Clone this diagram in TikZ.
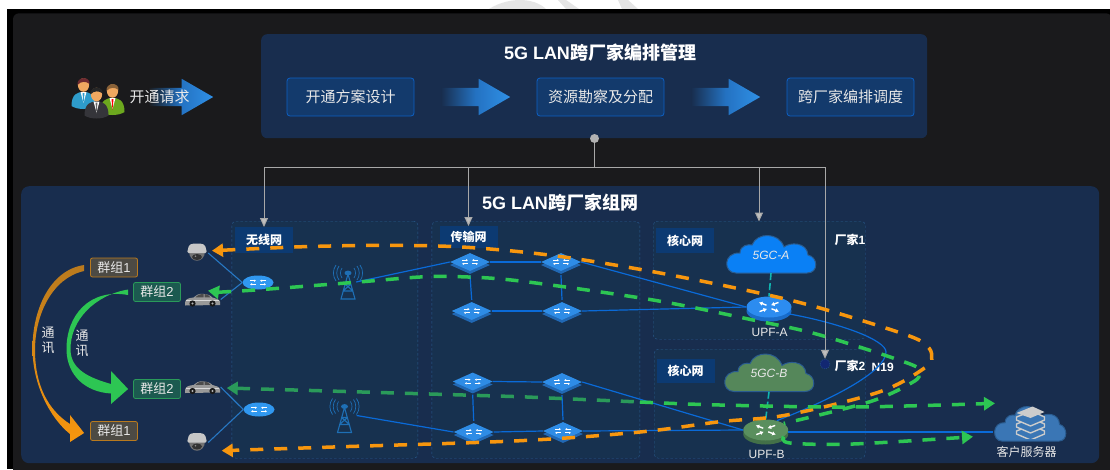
\documentclass[tikz,border=0pt]{standalone}
\usepackage{fontspec}
\setmainfont{Liberation Sans}
\newfontfamily\cjk{Noto Sans CJK SC}
\usetikzlibrary{arrows.meta,positioning,shapes.geometric,shapes.arrows,shadows}

\definecolor{pagedark}{HTML}{1A1A1C}
\definecolor{panelblue}{HTML}{182D4E}
\definecolor{regionblue}{HTML}{17314F}
\definecolor{regionedge}{HTML}{2A5C90}
\definecolor{flowfill}{HTML}{133A6C}
\definecolor{flowedge}{HTML}{0D60C4}
\definecolor{tagblue}{HTML}{0C3A72}
\definecolor{arrowblue}{HTML}{2F90E6}
\definecolor{arrowmid}{HTML}{2472C2}
\definecolor{feedgrey}{HTML}{A8A8A8}
\definecolor{linkblue}{HTML}{0A6AD8}
\definecolor{swtop}{HTML}{2E8CE6}
\definecolor{swside}{HTML}{2168B4}
\definecolor{accessblue}{HTML}{3098F0}
\definecolor{upfgreen}{HTML}{5A8F5E}
\definecolor{upfgreenside}{HTML}{437048}
\definecolor{upfblue}{HTML}{2C8CF0}
\definecolor{upfblueside}{HTML}{1A6CC8}
\definecolor{cloudblue}{HTML}{0A80F5}
\definecolor{cloudgreen}{HTML}{55875A}
\definecolor{serverblue}{HTML}{3A76B5}
\definecolor{dashorange}{HTML}{F7960E}
\definecolor{dashgreen}{HTML}{2DC653}
\definecolor{dashgreendark}{HTML}{2A9A5A}
\definecolor{tealdash}{HTML}{10B5B0}
\definecolor{towerblue}{HTML}{1E6FB5}
\definecolor{textlight}{HTML}{E8E8E8}
\definecolor{skintone}{HTML}{F0A860}
\definecolor{groupbrown}{HTML}{4C4A44}
\definecolor{groupteal}{HTML}{1C5A50}
\definecolor{groupedge}{HTML}{B97A1E}
\definecolor{shirtblue}{HTML}{2E9CCB}
\definecolor{shirtgreen}{HTML}{6CA81E}
\definecolor{suitdark}{HTML}{35353A}
\definecolor{hairred}{HTML}{6E2A30}
\definecolor{hairbrown}{HTML}{8A6238}

\newcommand{\sizept}[1]{\fontsize{#1}{#1}\selectfont}
% little white arrow pairs on the switches
\newcommand{\swmarks}{
	\draw[white,line width=.8pt,-{Latex[length=2pt,width=2.4pt]}] (-8,-1.8) -- (-2,-1.8);
	\draw[white,line width=.8pt,-{Latex[length=2pt,width=2.4pt]}] (-2,1.8) -- (-8,1.8);
	\draw[white,line width=.8pt,-{Latex[length=2pt,width=2.4pt]}] (8,-1.8) -- (2,-1.8);
	\draw[white,line width=.8pt,-{Latex[length=2pt,width=2.4pt]}] (2,1.8) -- (8,1.8);
}
\newcommand{\upfmarks}{
	\draw[white,line width=1.4pt,-{Latex[length=3.5pt,width=4.5pt]}] (-2.5,-1.8) -- (-10,-4.6);
	\draw[white,line width=1.4pt,-{Latex[length=3.5pt,width=4.5pt]}] (-9.5,4.6) -- (-2,1.8);
	\draw[white,line width=1.4pt,-{Latex[length=3.5pt,width=4.5pt]}] (9.5,-4.6) -- (2,-1.8);
	\draw[white,line width=1.4pt,-{Latex[length=3.5pt,width=4.5pt]}] (2.5,1.8) -- (10,4.6);
}
% cloud outline, drawn under the node that carries the name and the text
\newcommand{\cloudbg}[5]{
	\begin{scope}[shift={(#1,#2)},xscale=#3,yscale=#4]
		\draw[fill=#5,draw=regionedge,line width=1pt] (-35,18) .. controls (-48,18) and (-48,-3) .. (-31,-2) .. controls (-31,-10) and (-22,-11) .. (-19,-10) .. controls (-14,-23) and (8,-23) .. (13,-8) .. controls (19,-13) and (36,-13) .. (37,0) .. controls (47,2) and (48,18) .. (36,18) -- cycle;
	\end{scope}
}

\tikzset{
	flowbox/.style={draw=flowedge,line width=.8pt,fill=flowfill,rounded corners=3pt,minimum width=127pt,minimum height=38pt,inner sep=0pt,text=textlight,font=\sizept{15}\cjk},
	flowarrow/.style={single arrow,anchor=tail,minimum width=36pt,inner xsep=0pt,inner ysep=9pt,single arrow head extend=9pt,single arrow tip angle=60,left color=#1,right color=arrowblue,middle color=arrowmid,draw=none},
	titletext/.style={text=white,font=\sizept{18}\bfseries,inner sep=0pt},
	region/.style={draw=regionedge,dashed,dash pattern=on 2.5pt off 2pt,fill=regionblue,rounded corners=4pt,anchor=north west,inner sep=0pt},
	tagbox/.style={fill=tagblue,minimum width=58pt,minimum height=24pt,inner sep=0pt,text=white,font=\sizept{12}\bfseries\cjk},
	groupone/.style={draw=groupedge,line width=.8pt,fill=groupbrown,rounded corners=2pt,minimum width=47pt,minimum height=19pt,inner sep=0pt,text=textlight,font=\sizept{13}},
	grouptwo/.style={draw=dashgreendark,line width=.8pt,fill=groupteal,rounded corners=2pt,minimum width=47pt,minimum height=19pt,inner sep=0pt,text=textlight,font=\sizept{13}},
	plaintext/.style={inner sep=0pt,text=textlight,font=\sizept{#1}},
	plaintext/.default=12,
	boldtext/.style={inner sep=0pt,text=white,font=\sizept{12}\bfseries},
	switchnode/.style={diamond,aspect=2,fill=swtop,minimum width=40pt,minimum height=18pt,inner sep=0pt,general shadow={fill=swside,shadow yshift=-3pt},path picture={\begin{scope}[shift={(path picture bounding box.center)}]\swmarks\end{scope}}},
	accessnode/.style={ellipse,fill=accessblue,minimum width=31pt,minimum height=14pt,inner sep=0pt,path picture={\begin{scope}[shift={(path picture bounding box.center)},scale=.75]\swmarks\end{scope}}},
	upfnode/.style n args={2}{ellipse,fill=#1,minimum width=45pt,minimum height=21pt,inner sep=0pt,general shadow={fill=#2,shadow yshift=-4pt},path picture={\begin{scope}[shift={(path picture bounding box.center)}]\upfmarks\end{scope}}},
	cloudnode/.style 2 args={minimum width=#1pt,minimum height=#2pt,inner sep=0pt,text=textlight,font=\sizept{12}\itshape},
	camera/.style={minimum width=22pt,minimum height=20pt,inner sep=0pt,path picture={\begin{scope}[shift={(path picture bounding box.center)}]
		\fill[black!55] (-8,-2) .. controls (-8,11) and (8,11) .. (8,-2) -- cycle;
		\fill[black!22,rounded corners=1.5pt] (-10,0) -- (-8,-8) -- (-4,-9.5) -- (4,-9.5) -- (8,-8) -- (10,0) -- cycle;
		\fill[black!80] (0,4) ellipse (5pt and 3pt);
		\fill[black!45] (-1.5,3.2) circle (.8pt);
	\end{scope}}},
	carnode/.style={minimum width=36pt,minimum height=15pt,inner sep=0pt,path picture={\begin{scope}[shift={(path picture bounding box.center)}]
		\fill[black!40] (-17.5,3) .. controls (-17,-1) and (-13,-1.5) .. (-9,-2) .. controls (-5,-7) and (5,-7) .. (10,-2) .. controls (13,-1.5) and (17,0) .. (17.5,2) -- (17.5,5.5) -- (-17.5,6) -- cycle;
		\fill[black!70] (-7,-2.2) .. controls (-4,-5.5) and (-1,-5.6) .. (1,-5.6) -- (1,-2.2) -- cycle;
		\fill[black!70] (2,-5.6) .. controls (5,-5.4) and (6,-4.4) .. (8,-2.2) -- (2,-2.2) -- cycle;
		\fill[black!15] (-17,0.5) -- (16,.5) -- (16,1.5) -- (-17,1.5) -- cycle;
		\fill[black!90] (-10,4) circle (3.1pt) (10,4) circle (3.1pt);
		\fill[black!30] (-10,4) circle (1.2pt) (10,4) circle (1.2pt);
	\end{scope}}},
	towernode/.style={minimum width=30pt,minimum height=36pt,inner sep=0pt,path picture={\begin{scope}[shift={(path picture bounding box.center)}]
		\draw[towerblue,line width=1.1pt] (0,-8) -- (-7,17) -- (7,17) -- (0,-8) (-5,9) -- (5,9) (-3,2) -- (3,2) (-5,9) -- (3,2) (5,9) -- (-3,2);
		\fill[towerblue] (0,-9) ellipse (3.5pt and 2.4pt);
		\draw[towerblue,line width=.7pt] (-6,-14) .. controls (-8,-11) and (-8,-7) .. (-6,-4) (6,-14) .. controls (8,-11) and (8,-7) .. (6,-4) (-9,-16) .. controls (-12,-12) and (-12,-6) .. (-9,-2) (9,-16) .. controls (12,-12) and (12,-6) .. (9,-2) (-12,-17) .. controls (-15.5,-12) and (-15.5,-6) .. (-12,-1) (12,-17) .. controls (15.5,-12) and (15.5,-6) .. (12,-1);
	\end{scope}}},
	personnode/.style n args={4}{minimum width=28pt,minimum height=38pt,inner sep=0pt,path picture={\begin{scope}[shift={(path picture bounding box.center)},scale=#4]
		\fill[#1] (-12,14) .. controls (-12,2) and (-6,0) .. (0,0) .. controls (6,0) and (12,2) .. (12,14) .. controls (6,18) and (-6,18) .. (-12,14) -- cycle;
		\fill[white] (-3,0) -- (3,0) -- (0,11) -- cycle;
		\fill[#3] (-1,1) -- (1,1) -- (0,12) -- cycle;
		\fill[skintone] (0,-7) ellipse (5.6pt and 6.8pt);
		\fill[#2] (-6,-7) .. controls (-7,-16) and (7,-16) .. (6,-8) .. controls (3,-11) and (-3,-11) .. (-6,-7) -- cycle;
	\end{scope}}},
	booknode/.style={minimum width=32pt,minimum height=32pt,inner sep=0pt,path picture={\begin{scope}[shift={(path picture bounding box.center)}]
		\foreach \dy in {17,10,3}{
			\draw[fill=serverblue,draw=black!20,line width=1.4pt,line join=round] (-14,-8+\dy) -- (1,-14+\dy) -- (14,-8+\dy) -- (14,-5+\dy) -- (0,1+\dy) -- (-14,-5+\dy) -- cycle;
		}
		\fill[black!20] (-14,-9) -- (2,-15.5) -- (14,-10) -- (0,-4) -- cycle;
	\end{scope}}},
	hubdot/.style={circle,fill=black!30,minimum size=9pt,inner sep=0pt},
	vendordot/.style={circle,draw=regionedge,dashed,dash pattern=on 1pt off 1pt,fill=regionblue!80!blue,minimum size=10pt,inner sep=0pt},
	feedline/.style={draw=feedgrey,line width=1pt},
	feedarrow/.style={feedline,-{Triangle[length=9pt,width=8pt,fill=black!25]}},
	linkline/.style={draw=linkblue,line width=1.2pt},
	accessline/.style={draw=swtop!85!black,line width=1.1pt},
	tealline/.style={draw=tealdash,line width=1.6pt,dash pattern=on 7pt off 3pt},
	bigdash/.style={line width=3.5pt,dash pattern=on 13pt off 11pt},
}

\begin{document}
\begin{tikzpicture}[x=1pt,y=-1pt,node distance=250pt,on grid]
	\useasboundingbox (0,0) rectangle (1110,469);
	\fill[white] (0,0) rectangle (1110,469);
	% watermark remains on the top strip
	\fill[black!10] (489,9) .. controls (500,2) and (512,0) .. (520,0) .. controls (530,0) and (540,3) .. (546,9) -- cycle;
	\fill[black!10] (558,0) -- (566,0) -- (579,9) -- (566,9) -- cycle;
	\fill[black!10] (618,0) -- (628,0) -- (638,9) -- (622,9) -- cycle;
	\fill[black] (7,9) rectangle (1110,469);
	\fill[pagedark,rounded corners=6pt] (13,13.3) rectangle (1112,480);
	
	\node[fill=panelblue,rounded corners=6pt,anchor=north west,minimum width=666pt,minimum height=104pt,inner sep=0pt] (mgmt) at (261,34) {};
	\node[fill=panelblue,rounded corners=8pt,anchor=north west,minimum width=1078pt,minimum height=277pt,inner sep=0pt] (network) at (21,186) {};
	\node[titletext] (mgmttitle) at (600,53) {5G LAN{\cjk 跨厂家编排管理}};
	\node[titletext] (nettitle) at (560,203) {5G LAN{\cjk 跨厂家组网}};
	
	\node[flowbox] (design) at (350.5,97) {开通方案设计};
	\node[flowbox,right=of design] (survey) {资源勘察及分配};
	\node[flowbox,right=of survey] (dispatch) {跨厂家编排调度};
	\node[flowarrow=panelblue,minimum height=69pt] (arrowa) at (441,97) {};
	\node[flowarrow=panelblue,minimum height=69pt] (arrowb) at (691,97) {};
	\node[flowarrow=pagedark,minimum height=65pt] (arrowreq) at (148,97) {};
	\node[plaintext=15] (reqtext) at (159.5,97) {\cjk 开通请求};
	\node[personnode={shirtblue}{hairred}{shirtblue}{.85}] (usera) at (83.5,92) {};
	\node[personnode={shirtgreen}{hairbrown}{red}{.9}] (userb) at (112.5,98) {};
	\node[personnode={suitdark}{black!85}{black!60}{1.1}] (userc) at (96.5,101.5) {};
	
	\node[region,minimum width=186pt,minimum height=237pt] (wireless) at (231.7,221) {};
	\node[region,minimum width=208pt,minimum height=236.5pt] (transport) at (431.7,221.5) {};
	\node[region,minimum width=212pt,minimum height=118pt] (coreA) at (653,221) {};
	\node[region,minimum width=211pt,minimum height=109pt] (coreB) at (654,349) {};
	\node[tagbox,minimum height=26pt] (wirelesstag) at (264,239.5) {无线网};
	\node[tagbox,minimum height=22pt] (transporttag) at (468.5,237) {传输网};
	\node[tagbox,minimum height=25pt] (coreAtag) at (685,240.5) {核心网};
	\node[tagbox] (coreBtag) at (685.5,371) {核心网};
	
	% groups on the left
	\node[groupone] (grpAup) at (114,267.5) {{\cjk 群组}1};
	\node[grouptwo] (grpBup) at (157,292) {{\cjk 群组}2};
	\node[grouptwo] (grpBdown) at (157,389) {{\cjk 群组}2};
	\node[groupone] (grpAdown) at (114,431) {{\cjk 群组}1};
	\shade[top color=groupedge,bottom color=dashorange] ([xshift=-6pt,yshift=2.5pt]grpAup.west) .. controls (50,270) and (32,310) .. (32.5,350) .. controls (33,385) and (50,418) .. (70,434) -- (70,442) -- ([xshift=-6pt,yshift=-2pt]grpAdown.west) -- (70,415) -- (70,424) .. controls (48,410) and (35,385) .. (35,350) .. controls (35,315) and (52,278) .. ([xshift=-6pt,yshift=-3.5pt]grpAup.west) -- cycle;
	\fill[dashgreen] ([xshift=-5pt,yshift=-3pt]grpBup.west) .. controls (90,288) and (66,315) .. (66.5,350) .. controls (67,375) and (85,392) .. (111,393.5) -- (111,404) -- ([xshift=-5pt]grpBdown.west) -- (111,371) -- (111,384) .. controls (90,378) and (71,370) .. (70.5,350) .. controls (70,320) and (95,295) .. ([xshift=-5pt,yshift=2.5pt]grpBup.west) -- cycle;
	\node[plaintext=13,align=center] (talkA) at (48,340.5) {\cjk 通\\[2pt]\cjk 讯};
	\node[plaintext=13,align=center] (talkB) at (82,343.5) {\cjk 通\\[2pt]\cjk 讯};
	
	\node[camera] (camup) at (197,253) {};
	\node[carnode] (carup) at (202.5,299.5) {};
	\node[carnode] (cardown) at (202.5,387) {};
	\node[camera] (camdown) at (197,442.5) {};
	\node[accessnode] (accup) at (258,282.5) {};
	\node[accessnode] (accdown) at (259,409.5) {};
	\node[towernode] (towerup) at (348,282) {};
	\node[towernode] (towerdown) at (344.5,415.5) {};
	
	% transport switches
	\node[switchnode] (swa) at (470,262) {};
	\node[switchnode] (swb) at (561,262) {};
	\node[switchnode] (swc) at (471.7,311) {};
	\node[switchnode] (swd) at (562,311) {};
	\node[switchnode] (swe) at (472.7,381.5) {};
	\node[switchnode] (swf) at (562,382) {};
	\node[switchnode] (swg) at (473.7,432) {};
	\node[switchnode] (swh) at (563,431) {};
	
	\cloudbg{771}{255}{1}{1}{cloudblue}
	\cloudbg{769}{373.5}{1}{1}{cloudgreen}
	\cloudbg{1030}{424.5}{.8}{.92}{serverblue}
	\node[cloudnode={92}{38}] (cloudA) at (771,255) {5GC-A};
	\node[cloudnode={92}{38}] (cloudB) at (769,373.5) {5GC-B};
	\node[upfnode={upfblue}{upfblueside}] (upfA) at (769,307) {};
	\node[upfnode={upfgreen}{upfgreenside}] (upfB) at (765.7,430) {};
	\node[plaintext] (upfAtext) at (769.7,332) {UPF-A};
	\node[plaintext] (upfBtext) at (766.7,454) {UPF-B};
	\node[boldtext] (vendorone) at (850,240) {{\cjk 厂家}1};
	\node[boldtext] (vendortwo) at (850,366) {{\cjk 厂家}2};
	\node[boldtext] (nnineteen) at (882.7,367) {N19};
	\node[vendordot] (vendorpoint) at (825,364) {};
	\node[cloudnode={74}{35}] (server) at (1030,424.5) {};
	\node[booknode] (books) at (1030.5,422) {};
	\node[plaintext] (servertext) at (1026.7,452) {\cjk 客户服务器};
	
	% thin links
	\draw[accessline] (accup.west) -- (camup.east) (accup.west) -- (carup.east);
	\draw[accessline] (accdown.west) -- (cardown.east) (accdown.west) -- (camdown.east);
	\draw[linkline] ([xshift=-7pt]towerup.east) -- (swa.west);
	\draw[linkline] ([xshift=-3pt]towerdown.east) -- (swg.west);
	\foreach \from/\to in {swa/swb,swc/swd,swe/swf,swg/swh}
		\draw[linkline] (\from.east) -- (\to.west);
	\foreach \from/\to in {swa/swc,swb/swd,swe/swg,swf/swh}
		\draw[linkline] ([yshift=-4pt]\from.south) -- ([yshift=2pt]\to.north);
	\draw[linkline] (swb.east) -- (upfA.west);
	\draw[linkline] (swd.east) -- (upfA.west);
	\draw[linkline] (swf.east) -- (upfB.west);
	\draw[linkline] (swh.east) -- (upfB.west);
	\draw[linkline] (upfA.-20) .. controls (840,323) and (886,340) .. (886,352) .. controls (886,372) and (830,400) .. (upfB.40);
	\coordinate (upfBout) at ([yshift=-2pt]upfB.east);
	\draw[linkline] (upfBout) -- (upfBout -| server.west);
	\draw[tealline] ([yshift=1pt]cloudA.south) -- (upfA.north);
	\draw[tealline] ([yshift=1pt]cloudB.south) -- (upfB.north);
	
	% feed lines from the orchestration box
	\coordinate (trunk) at (594.5,167);
	\coordinate (tipwireless) at (264,227);
	\coordinate (tiptransport) at (468.5,226);
	\coordinate (tipcore) at (759,221.5);
	\draw[feedline] (mgmt.south -| trunk) -- (trunk);
	\draw[feedarrow] (trunk) -| (tipwireless);
	\draw[feedarrow] (trunk) -| (tiptransport);
	\draw[feedarrow] (trunk) -| (tipcore);
	\draw[feedarrow] (trunk) -| (vendorpoint.north);
	\node[hubdot] (hub) at (594.5,138.5) {};
	
	% service paths
	\coordinate (orangeup) at (212,250.7);
	\coordinate (orangedown) at (221.7,450.7);
	\coordinate (greenup) at (208,290.7);
	\coordinate (greenleft) at (226.7,388);
	\coordinate (greenmid) at (640,402);
	\coordinate (greenright) at (995,403.3);
	\coordinate (greenserver) at (973,436.7);
	\draw[bigdash,dashorange,{Triangle[length=11pt,width=13pt]}-{Triangle[length=11pt,width=13pt]}] plot[smooth,tension=.55] coordinates {(orangeup) (330,246) (426.7,245.7) (490,249) (561.7,256.7) (653,271.7) (753,291.7) (820,308) (906.7,335) (927,346) (931.7,356) (926,367) (880,391.7) (786.7,415) (720,421.7) (640,432) (520,440.7) (333,447) (orangedown)};
	\draw[bigdash,dashgreen,{Triangle[length=11pt,width=13pt]}-] plot[smooth,tension=.55] coordinates {(greenup) (240,291) (350,282.7) (420,277) (460,276.7) (520,281) (653,300) (753,320) (820,335) (910,364) (919,373) (913,382) (870,401.7) (upfB.20)};
	\draw[bigdash,dashgreen,-{Triangle[length=11pt,width=13pt]}] plot[smooth,tension=.55] coordinates {(upfB.-20) (790,443) (853,444) (greenserver)};
	\draw[bigdash,dashgreendark,{Triangle[length=11pt,width=13pt]}-] (greenleft) -- (430,394) -- (520,396.7) -- (greenmid);
	\draw[bigdash,dashgreen,-{Triangle[length=11pt,width=13pt]}] plot[smooth,tension=.55] coordinates {(greenmid) (720,405) (853,407) (greenright)};
\end{tikzpicture}
\end{document}
